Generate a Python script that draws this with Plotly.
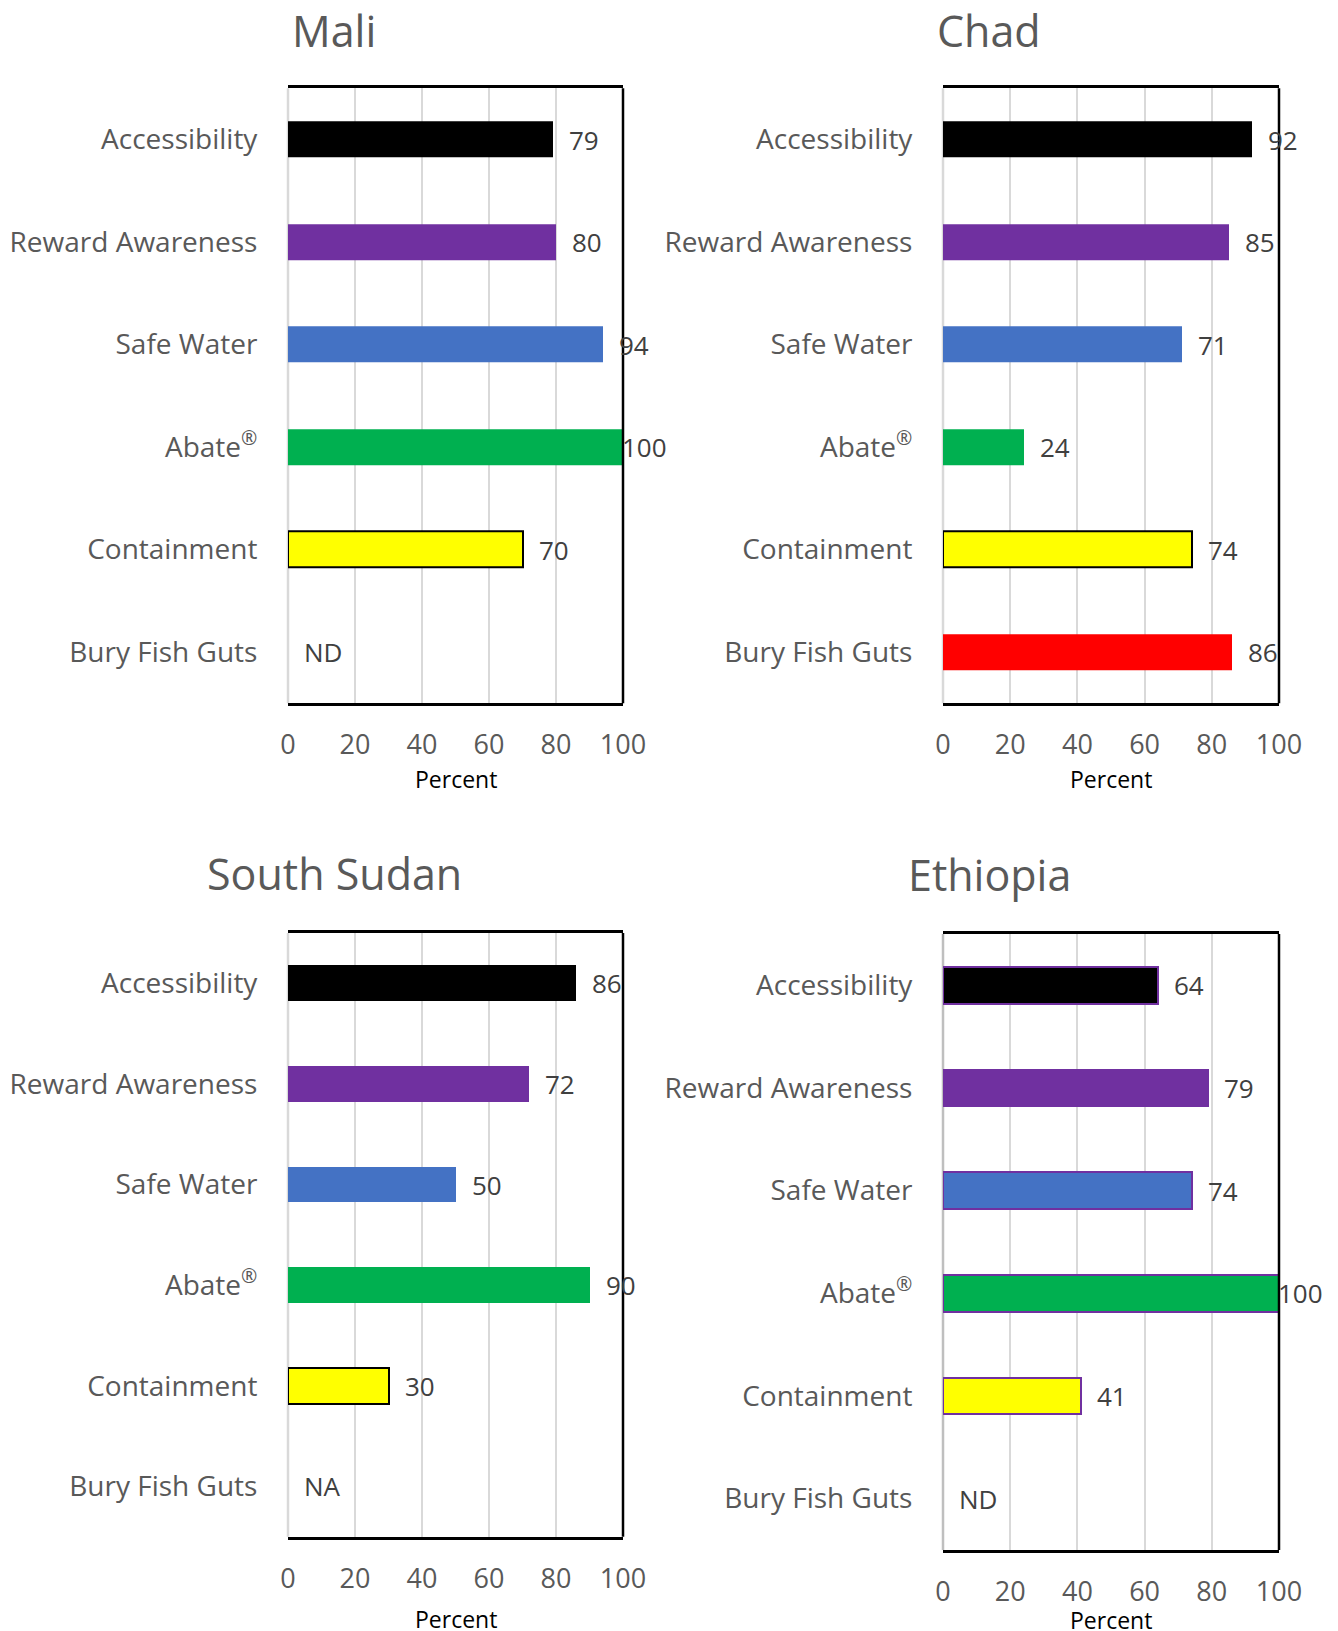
import plotly.graph_objects as go

# ---------------- data ----------------
categories = ["Accessibility", "Reward Awareness", "Safe Water",
              "Abate<sup>®</sup>", "Containment", "Bury Fish Guts"]
bar_colors = ["#000000", "#7030A0", "#4472C4", "#00B050", "#FFFF00", "#FF0000"]
x_ticks = [0, 20, 40, 60, 80, 100]
countries = ["Mali", "Chad", "South Sudan", "Ethiopia"]

mali_values = [79, 80, 94, 100, 70, None]
mali_labels = ["79", "80", "94", "100", "70", "ND"]

chad_values = [92, 85, 71, 24, 74, 86]
chad_labels = ["92", "85", "71", "24", "74", "86"]

ssudan_values = [86, 72, 50, 90, 30, None]
ssudan_labels = ["86", "72", "50", "90", "30", "NA"]

ethiopia_values = [64, 79, 74, 100, 41, None]
ethiopia_labels = ["64", "79", "74", "100", "41", "ND"]

all_values = [mali_values, chad_values, ssudan_values, ethiopia_values]
all_labels = [mali_labels, chad_labels, ssudan_labels, ethiopia_labels]

# ---------------- styling / layout ----------------
W, H = 1338, 1631
FONT = "Open Sans"
GRAY = "#595959"
T = "rgba(0,0,0,0)"

geo = [
    dict(left=288, right=623, top=88.3, bottom=703.3, title_x=334, title_y=0, pct_y=779,
         zero="#D9D9D9", outline=[T, T, T, T, "#000000", T], owidth=[0, 0, 0, 0, 2, 0]),
    dict(left=943, right=1279, top=88.3, bottom=703.3, title_x=989, title_y=0, pct_y=779,
         zero="#D9D9D9", outline=[T, T, T, T, "#000000", T], owidth=[0, 0, 0, 0, 2, 0]),
    dict(left=288, right=623, top=933, bottom=1536.7, title_x=334, title_y=843, pct_y=1619,
         zero="#D9D9D9", outline=[T, T, T, T, "#000000", T], owidth=[0, 0, 0, 0, 2, 0]),
    dict(left=943, right=1279, top=934, bottom=1550, title_x=989, title_y=844, pct_y=1620,
         zero="#BFBFBF", outline=["#7030A0"] * 6, owidth=[2] * 6),
]

fig = go.Figure()
annotations = []
shapes = []

for i, (name, vals, labs, g) in enumerate(zip(countries, all_values, all_labels, geo)):
    s = "" if i == 0 else str(i + 1)
    fig.add_trace(go.Bar(
        x=vals, y=categories, orientation="h", width=0.355,
        marker=dict(color=bar_colors, line=dict(color=g["outline"], width=g["owidth"])),
        xaxis="x" + s, yaxis="y" + s, hoverinfo="skip", showlegend=False,
    ))
    fig.layout["xaxis" + s] = dict(
        domain=[g["left"] / W, g["right"] / W], anchor="y" + s, automargin=False,
        range=[0, 100], tickvals=x_ticks, showgrid=True, gridcolor="#D9D9D9", gridwidth=2,
        zeroline=False, showline=True, mirror=True, linecolor="black", linewidth=2.5,
        ticks="outside", ticklen=16, tickcolor=T,
        tickfont=dict(family=FONT, size=27, color=GRAY), fixedrange=True,
    )
    fig.layout["yaxis" + s] = dict(
        domain=[1 - g["bottom"] / H, 1 - g["top"] / H], anchor="x" + s, automargin=False,
        type="category", categoryorder="array", categoryarray=categories,
        range=[5.5, -0.5], showgrid=False, showline=False, zeroline=False,
        ticks="outside", ticklen=24, tickcolor=T,
        tickfont=dict(family=FONT, size=28, color=GRAY), fixedrange=True,
    )
    # left gray axis line, right black frame line
    shapes.append(dict(type="line", xref=f"x{s} domain", yref=f"y{s} domain",
                       x0=0, x1=0, y0=0, y1=1, line=dict(color=g["zero"], width=2.5), layer="below"))
    shapes.append(dict(type="line", xref=f"x{s} domain", yref=f"y{s} domain",
                       x0=1, x1=1, y0=0, y1=1, line=dict(color="black", width=2.5)))
    # title (top of text box anchored)
    annotations.append(dict(text=name, xref="paper", yref="paper",
                            x=g["title_x"] / W, y=1 - g["title_y"] / H,
                            xanchor="center", yanchor="top", showarrow=False,
                            borderpad=0,
                            font=dict(family=FONT, size=43, color=GRAY)))
    # axis title
    annotations.append(dict(text="Percent", xref="paper", yref="paper",
                            x=(g["left"] + g["right"]) / 2 / W, y=1 - g["pct_y"] / H,
                            xanchor="center", yanchor="middle", showarrow=False,
                            font=dict(family=FONT, size=23, color="black")))
    # data labels
    for v, lab, c in zip(vals, labs, categories):
        xv = v if v is not None else 0
        annotations.append(dict(text=lab, x=xv, y=c, xref="x" + s, yref="y" + s,
                                xanchor="left", yanchor="middle", showarrow=False,
                                xshift=14 if xv < 100 else -3,
                                font=dict(family=FONT, size=26, color="#404040")))

fig.update_layout(
    width=W, height=H, margin=dict(l=0, r=0, t=0, b=0, autoexpand=False),
    paper_bgcolor="white", plot_bgcolor="white",
    font=dict(family=FONT, color=GRAY),
    annotations=annotations, shapes=shapes, bargap=0,
)

fig.write_html("out.html")
